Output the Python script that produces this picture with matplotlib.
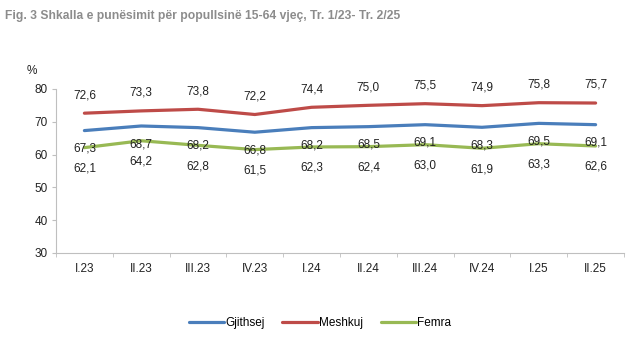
import numpy as np
import matplotlib.pyplot as plt

plt.rcParams['font.family'] = ['Liberation Sans', 'DejaVu Sans']

quarters = ['I.23', 'II.23', 'III.23', 'IV.23', 'I.24', 'II.24', 'III.24', 'IV.24', 'I.25', 'II.25']
gjithsej = [67.3, 68.7, 68.2, 66.8, 68.2, 68.5, 69.1, 68.3, 69.5, 69.1]
meshkuj = [72.6, 73.3, 73.8, 72.2, 74.4, 75.0, 75.5, 74.9, 75.8, 75.7]
femra = [62.1, 64.2, 62.8, 61.5, 62.3, 62.4, 63.0, 61.9, 63.3, 62.6]

fig = plt.figure(figsize=(6.4, 3.46), dpi=100)
ax = fig.add_axes([0.0875, 0.269, 0.8875, 0.474])

x = np.arange(len(quarters))
series = [
    (gjithsej, 'Gjithsej', '#4a7ebb', -13),
    (meshkuj, 'Meshkuj', '#be4b48', 13),
    (femra, 'Femra', '#98b954', -15),
]
for vals, name, col, off in series:
    ax.plot(x, vals, color=col, lw=2.3, solid_joinstyle='round', solid_capstyle='round', label=name)
    for xi, v in zip(x, vals):
        ax.annotate(f'{v:.1f}'.replace('.', ','), (xi, v), xytext=(0, off),
                    textcoords='offset points', ha='center', va='center',
                    fontsize=8.5, color='#222222')

ax.set_xlim(-0.5, len(quarters) - 0.5)
ax.set_ylim(30, 80)
ax.set_yticks(range(30, 81, 10))
ax.set_xticks(x)
ax.set_xticklabels(quarters)
ax.set_xticks(np.arange(-0.5, len(quarters)), minor=True)
ax.tick_params(axis='x', which='major', length=0, pad=7, labelsize=8.5, colors='#222222')
ax.tick_params(axis='x', which='minor', length=3, color='#bfbfbf')
ax.tick_params(axis='y', length=3, color='#bfbfbf', labelsize=8.5, labelcolor='#222222', pad=3)
for s in ['top', 'right']:
    ax.spines[s].set_visible(False)
for s in ['left', 'bottom']:
    ax.spines[s].set_color('#bfbfbf')

fig.text(0.05, 0.785, '%', fontsize=8.5, color='#222222', ha='center')
fig.text(0.008, 0.955, 'Fig. 3 Shkalla e punësimit për popullsinë 15-64 vjeç, Tr. 1/23- Tr. 2/25',
         fontsize=8.7, fontweight='bold', color='#8c8c8c', ha='left', va='center')

fig.legend(loc='center', bbox_to_anchor=(0.5, 0.067), ncol=3, frameon=False,
           fontsize=8.5, handlelength=3.0, handletextpad=0.1, columnspacing=1.5)

fig.savefig('out.png', dpi=100, facecolor='white')
